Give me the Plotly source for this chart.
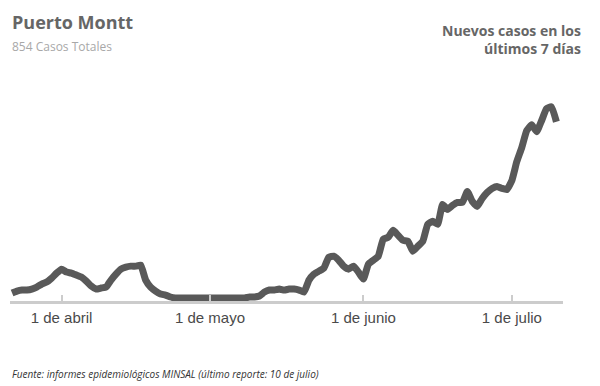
import plotly.graph_objects as go
import pandas as pd

# Daily 7-day rolling new cases, Puerto Montt, 22 Mar - 10 Jul 2020
start_date = "2020-03-22"
cases_7d = [
    5, 7, 8, 8, 9, 11, 14, 16, 20, 25,          # 22-31 Mar
    29, 26, 25, 23, 21, 17, 12, 9, 10, 11,      # 1-10 Apr
    18, 24, 29, 31, 32, 32, 33, 18, 11, 7,      # 11-20 Apr
    4, 3, 1, 0, 0, 0, 0, 0, 0, 0,               # 21-30 Apr
    0, 0, 0, 0, 0, 0, 0, 0, 1, 1,               # 1-10 May
    2, 6, 8, 8, 9, 8, 9, 9, 8, 6,               # 11-20 May
    18, 24, 27, 30, 41, 42, 38, 32, 29, 32,     # 21-30 May
    26, 19, 34, 38, 42, 59, 61, 68, 63, 58,     # 31 May - 9 Jun
    57, 47, 52, 57, 74, 77, 74, 94, 89, 93,     # 10-19 Jun
    96, 96, 107, 97, 92, 100, 106, 110, 112, 110,  # 20-29 Jun
    109, 118, 137, 151, 168, 174, 167, 178, 190, 192,  # 30 Jun - 9 Jul
    177,                                        # 10 Jul
]
dates = pd.date_range(start_date, periods=len(cases_7d), freq="D")

tick_vals = ["2020-04-01", "2020-05-01", "2020-06-01", "2020-07-01"]
tick_text = ["1 de abril", "1 de mayo", "1 de junio", "1 de julio"]

title_text = "Puerto Montt"
subtitle_text = "854 Casos Totales"
right_title = "Nuevos casos en los<br>últimos 7 días"
source_text = "Fuente: informes epidemiológicos MINSAL (último reporte: 10 de julio)"

# page body has an 8px margin, so the figure is drawn offset by 8px
fig = go.Figure()
fig.add_trace(go.Scatter(
    x=dates, y=cases_7d, mode="lines",
    line=dict(color="#595959", width=7, shape="spline", smoothing=0.4),
    hoverinfo="x+y", showlegend=False,
))

fig.update_layout(
    width=600, height=386,
    margin=dict(l=2, r=45, t=52, b=93),
    paper_bgcolor="white", plot_bgcolor="white",
    xaxis=dict(
        range=["2020-03-21 14:00", "2020-07-11 08:00"],
        tickvals=tick_vals, ticktext=tick_text,
        ticks="inside", ticklen=6, tickwidth=2, tickcolor="#cccccc",
        showline=True, linecolor="#cccccc", linewidth=3,
        showgrid=False, zeroline=False,
        tickfont=dict(family="Liberation Sans, Arial, sans-serif", size=15, color="#4a4a4a"),
        ticklabelstandoff=1,
    ),
    yaxis=dict(
        range=[-3, 239], visible=False, showgrid=False, zeroline=False,
    ),
    annotations=[
        dict(text="<b>" + title_text + "</b>", xref="paper", yref="paper",
             x=0, y=(301 - 22) / 241, xanchor="left", yanchor="middle",
             showarrow=False,
             font=dict(family="Open Sans", size=18, color="#666666")),
        dict(text=subtitle_text, xref="paper", yref="paper",
             x=0, y=(301 - 47) / 241, xanchor="left", yanchor="middle",
             showarrow=False,
             font=dict(family="Open Sans", size=12, color="#a8a8a8")),
        dict(text="<b>" + right_title + "</b>", xref="paper", yref="paper",
             x=(583 - 10) / 553, y=(301 - 39) / 241, xanchor="right", yanchor="middle",
             align="right", showarrow=False,
             font=dict(family="Open Sans", size=14, color="#666666")),
        dict(text="<i>" + source_text + "</i>", xref="paper", yref="paper",
             x=0, y=(301 - 374) / 241, xanchor="left", yanchor="middle",
             showarrow=False,
             font=dict(family="Open Sans", size=10, color="#333333")),
    ],
)

fig.write_html("out.html")
